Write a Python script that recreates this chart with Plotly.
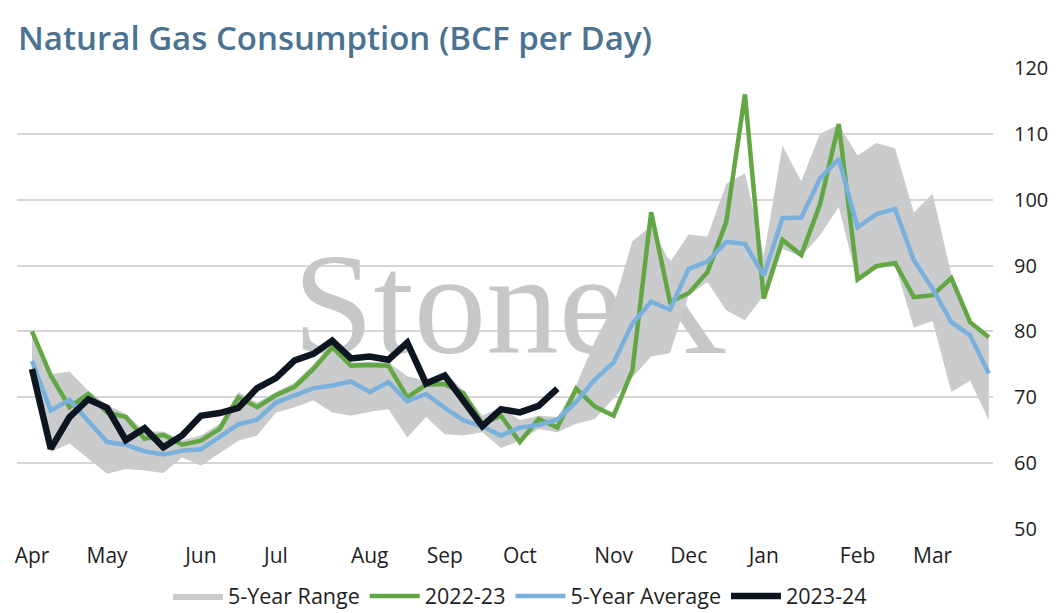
import plotly.graph_objects as go

# ---- data (weekly, April through March) ----
weeks = list(range(52))
month_labels = ["Apr", "May", "Jun", "Jul", "Aug", "Sep", "Oct", "Nov", "Dec", "Jan", "Feb", "Mar"]
month_start_week = [0, 4, 9, 13, 18, 22, 26, 31, 35, 39, 44, 48]

range_low = [73.0, 61.7, 63.0, 60.7, 58.4, 59.1, 58.9, 58.5, 60.9, 59.6,
             61.5, 63.4, 64.2, 67.7, 68.5, 69.5, 67.7, 67.2, 67.8, 68.2,
             63.9, 67.0, 64.4, 64.2, 64.7, 62.3, 63.4, 65.2, 64.7, 66.0,
             66.7, 69.8, 73.0, 76.2, 76.7, 85.5, 87.5, 83.2, 81.7, 85.5,
             92.5, 91.4, 94.6, 98.9, 87.5, 89.5, 90.2, 80.6, 81.6, 70.8,
             72.5, 66.5]
range_high = [79.5, 73.5, 73.9, 71.0, 68.8, 67.5, 64.8, 64.8, 63.5, 64.2,
              66.0, 70.8, 69.2, 70.8, 72.2, 75.0, 78.2, 75.3, 75.4, 75.3,
              73.2, 72.5, 73.8, 71.0, 67.2, 68.5, 66.5, 67.2, 67.0, 71.8,
              78.5, 84.0, 93.7, 96.0, 90.5, 94.7, 94.4, 102.4, 104.0, 91.5,
              108.2, 102.8, 110.0, 111.4, 106.7, 108.6, 107.8, 98.1, 100.9, 88.6,
              81.6, 79.0]
y2022_23 = [80.0, 73.3, 68.5, 70.5, 67.7, 67.0, 63.7, 64.3, 62.8, 63.4,
            65.2, 70.0, 68.5, 70.3, 71.6, 74.3, 77.6, 74.8, 74.9, 74.8,
            70.0, 71.9, 72.0, 70.6, 66.0, 67.2, 63.2, 66.7, 65.4, 71.3,
            68.6, 67.2, 74.1, 98.1, 84.5, 85.8, 89.0, 96.6, 116.0, 85.0,
            93.9, 91.6, 99.3, 111.5, 87.9, 89.9, 90.4, 85.2, 85.5, 88.1,
            81.4, 79.1]
avg_5yr = [75.5, 68.0, 69.6, 66.5, 63.2, 62.8, 61.8, 61.3, 61.9, 62.1,
           63.9, 65.9, 66.6, 69.2, 70.3, 71.4, 71.8, 72.4, 70.8, 72.3,
           69.4, 70.5, 68.4, 66.5, 65.6, 64.2, 65.4, 65.8, 66.6, 69.3,
           72.7, 75.3, 81.2, 84.5, 83.3, 89.5, 90.6, 93.6, 93.3, 88.5,
           97.2, 97.3, 103.2, 106.2, 95.8, 97.8, 98.6, 90.8, 86.5, 81.4,
           79.4, 73.6]
y2023_24 = [74.3, 62.2, 67.0, 69.7, 68.4, 63.5, 65.3, 62.4, 64.2, 67.2,
            67.6, 68.4, 71.4, 72.9, 75.6, 76.6, 78.6, 75.9, 76.2, 75.7,
            78.3, 72.1, 73.3, 69.5, 65.6, 68.2, 67.7, 68.7, 71.3]

y_ticks = [50, 60, 70, 80, 90, 100, 110, 120]

FONT = "Open Sans"
GREEN = "#62a744"
BLUE = "#7ab0dc"
BLACK = "#0c1520"
BAND = "#c9cbcc"
TEXT = "#1e1e1e"
MARK = "#c6c7c9"

W, H = 1051, 605  # page body keeps an 8px margin inside the 1059x613 window

fig = go.Figure()

# watermark (drawn first so it sits beneath the data), centred in the plot area
x_mid = (weeks[0] + weeks[-1]) / 2
y_mark = y_ticks[0] + 0.46 * (y_ticks[-1] - y_ticks[0])
fig.add_trace(go.Scatter(
    x=[x_mid], y=[y_mark], mode="text",
    text=["StoneX"],
    textposition="middle center",
    textfont=dict(family="Liberation Serif", size=145, color=MARK),
    showlegend=False, hoverinfo="skip"))

fig.add_trace(go.Scatter(
    x=weeks, y=range_low, mode="lines", line=dict(width=0, color=BAND),
    showlegend=False, hoverinfo="skip"))
fig.add_trace(go.Scatter(
    x=weeks, y=range_high, mode="lines", line=dict(width=0, color=BAND),
    fill="tonexty", fillcolor=BAND, name="5-Year Range"))
fig.add_trace(go.Scatter(
    x=weeks, y=y2022_23, mode="lines", line=dict(width=4.5, color=GREEN),
    name="2022-23"))
fig.add_trace(go.Scatter(
    x=weeks, y=avg_5yr, mode="lines", line=dict(width=4.5, color=BLUE),
    name="5-Year Average"))
fig.add_trace(go.Scatter(
    x=weeks[:len(y2023_24)], y=y2023_24, mode="lines",
    line=dict(width=6.5, color=BLACK), name="2023-24"))

fig.update_layout(
    width=W, height=H,
    margin=dict(l=9, r=66, t=59.5, b=84, autoexpand=False),
    paper_bgcolor="white", plot_bgcolor="white",
    font=dict(family=FONT, color=TEXT),
    title=dict(text="Natural Gas Consumption (BCF per Day)",
               font=dict(family=FONT, size=33, color="#4b7391", weight=600),
               xref="container", x=10 / W, xanchor="left",
               yref="container", y=1 - 30 / H, yanchor="middle"),
    xaxis=dict(range=[-0.8, 51.22], tickmode="array",
               tickvals=month_start_week, ticktext=month_labels,
               showgrid=False, zeroline=False, showline=False, ticks="",
               ticklabelstandoff=12,
               tickfont=dict(family=FONT, size=21, color=TEXT)),
    yaxis=dict(range=[50, 120], tickmode="array", tickvals=y_ticks,
               side="right", showgrid=True, gridcolor="#d6d6d6", gridwidth=2,
               zeroline=False, showline=False, ticks="", ticklabelstandoff=20,
               tickfont=dict(family=FONT, size=20, color=TEXT)),
    legend=dict(orientation="h", traceorder="normal",
                xref="container", x=512 / W, xanchor="center",
                yref="container", y=1 - 588 / H, yanchor="middle",
                font=dict(family=FONT, size=21.5, color=TEXT),
                itemwidth=50, tracegroupgap=0),
    showlegend=True,
    annotations=[dict(text="®", xref="paper", yref="paper",
                      x=(733 - 9) / 976, y=(521 - 262) / 461.5,
                      xanchor="center", yanchor="middle", showarrow=False,
                      font=dict(family="Liberation Serif", size=20, color=MARK))],
)

fig.write_html("out.html")
